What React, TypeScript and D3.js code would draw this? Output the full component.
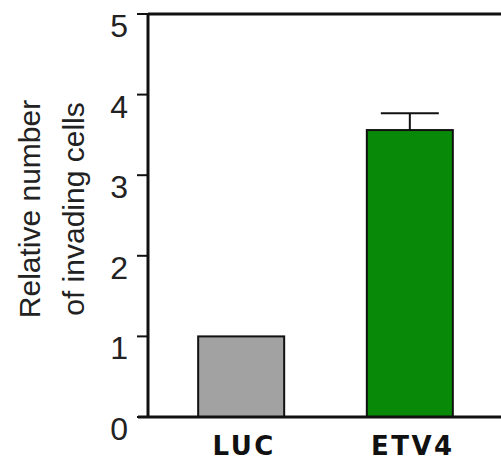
import React from 'react';
import * as d3 from 'd3';

// data
const categories = ['LUC', 'ETV4'];
const values = [1.0, 3.56];
const errors = [0, 0.21];
const barColors = ['#a2a2a2', '#088a08'];
const yTicks = [0, 1, 2, 3, 4, 5];
const titleLines = ['Relative number', 'of invading cells'];

const W = 501;
const H = 461;

export default function App() {
  const axisX = 148;
  const y = d3.scaleLinear().domain([0, 5]).range([417, 14]);
  const x = d3
    .scaleBand<string>()
    .domain(categories)
    .range([156, 495])
    .paddingInner(0.49)
    .paddingOuter(0.25);

  return (
    <svg
      width={W}
      height={H}
      style={{ position: 'absolute', left: 0, top: 0, background: '#fff' }}
    >
      <rect width={W} height={H} fill="#fff" />

      {/* bars */}
      {categories.map((c, i) => {
        const x0 = x(c) as number;
        return (
          <rect
            key={c}
            x={x0}
            y={y(values[i])}
            width={x.bandwidth()}
            height={y(0) - y(values[i])}
            fill={barColors[i]}
            stroke="#111"
            strokeWidth={2}
          />
        );
      })}

      {/* error bars */}
      {categories.map((c, i) => {
        if (!errors[i]) return null;
        const cx = (x(c) as number) + x.bandwidth() / 2;
        const top = y(values[i] + errors[i]);
        return (
          <g key={c + '-err'} stroke="#111" strokeWidth={2}>
            <line x1={cx} x2={cx} y1={y(values[i])} y2={top} />
            <line x1={cx - 29} x2={cx + 29} y1={top} y2={top} />
          </g>
        );
      })}

      {/* frame: y axis, baseline, top line */}
      <line x1={axisX} x2={axisX} y1={y(5) - 1} y2={y(0) + 1} stroke="#111" strokeWidth={3} />
      <line x1={axisX - 10} x2={W} y1={y(0)} y2={y(0)} stroke="#111" strokeWidth={3} />
      <line x1={axisX} x2={W} y1={y(5)} y2={y(5)} stroke="#111" strokeWidth={3} />

      {/* y ticks */}
      {yTicks.map((t) => (
        <g key={t}>
          <line x1={axisX - 11} x2={axisX} y1={y(t)} y2={y(t)} stroke="#111" strokeWidth={2} />
          <text
            x={128}
            y={y(t) + 23}
            textAnchor="end"
            fontFamily="Liberation Sans, Arial, sans-serif"
            fontSize={32}
            fill="#222"
          >
            {t}
          </text>
        </g>
      ))}

      {/* y title */}
      <g transform="translate(0, 209) rotate(-90)">
        {titleLines.map((l, i) => (
          <text
            key={l}
            x={0}
            y={40 + i * 44}
            textAnchor="middle"
            fontFamily="Liberation Sans, Arial, sans-serif"
            fontSize={30}
            fill="#222"
          >
            {l}
          </text>
        ))}
      </g>

      {/* category labels */}
      {categories.map((c) => (
        <text
          key={c + '-lab'}
          x={(x(c) as number) + x.bandwidth() / 2 + 3}
          y={455}
          textAnchor="middle"
          fontFamily="DejaVu Sans, Verdana, sans-serif"
          fontWeight="bold"
          fontSize={26}
          letterSpacing={2.5}
          fill="#111"
        >
          {c}
        </text>
      ))}
    </svg>
  );
}
